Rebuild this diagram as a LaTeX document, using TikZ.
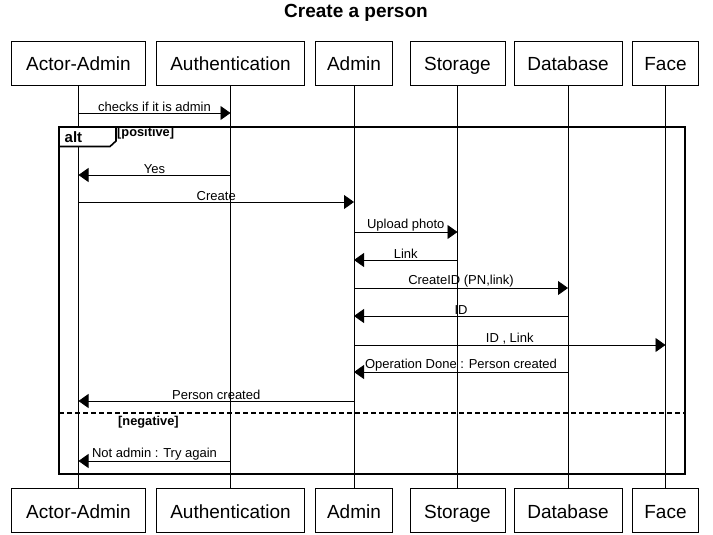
\documentclass[tikz,border=0pt]{standalone}
\usepackage{fontspec}
\setmainfont{Liberation Sans}
\usetikzlibrary{arrows.meta,positioning}

\begin{document}
\begin{tikzpicture}[x=1pt,y=-1pt,
    part/.style={draw,line width=0.8pt,minimum height=44pt,inner sep=0pt,
        text height=18pt,text depth=2pt,font=\fontsize{19}{22}\selectfont},
    msg/.style={-{Triangle[length=10pt,width=14pt]},line width=0.8pt},
    lbl/.style={above,inner sep=0.8pt,font=\fontsize{13}{15}\selectfont},
    life/.style={line width=0.8pt},
    frame/.style={line width=1.6pt},
    guard/.style={right,inner sep=1pt,font=\bfseries\fontsize{12.8}{14}\selectfont}]
    \useasboundingbox (0,0) rectangle (713,535);

    % Title
    \node[font=\bfseries\fontsize{19}{22}\selectfont] (title) at (356,13) {Create a person};

    % Participants, top row
    \node[part,minimum width=134pt] (actT) at (78.5,63)  {Actor-Admin};
    \node[part,minimum width=148pt] (autT) at (230.5,63) {Authentication};
    \node[part,minimum width=77pt]  (admT) at (354,63)   {Admin};
    \node[part,minimum width=95pt]  (stoT) at (457.5,63) {Storage};
    \node[part,minimum width=108pt] (datT) at (568,63)   {Database};
    \node[part,minimum width=66pt]  (facT) at (665.5,63) {Face};

    % Participants, bottom row
    \node[part,minimum width=134pt] (actB) at (78.5,510.5)  {Actor-Admin};
    \node[part,minimum width=148pt] (autB) at (230.5,510.5) {Authentication};
    \node[part,minimum width=77pt]  (admB) at (354,510.5)   {Admin};
    \node[part,minimum width=95pt]  (stoB) at (457.5,510.5) {Storage};
    \node[part,minimum width=108pt] (datB) at (568,510.5)   {Database};
    \node[part,minimum width=66pt]  (facB) at (665.5,510.5) {Face};

    % Lifelines
    \foreach \p in {act,aut,adm,sto,dat,fac}
        \draw[life] (\p T.south) -- (\p B.north);

    % Alt frame
    \coordinate (frNW) at (59,127);
    \coordinate (frSE) at (685,474);
    \draw[frame] (frNW) rectangle (frSE);
    \draw[frame,fill=white] (frNW) -- (frNW |- 0,146.5) -- (110,146.5) -- (116,141) -- (116,127) -- cycle;
    \node[right,inner sep=0pt,font=\bfseries\fontsize{15}{17}\selectfont] (alt) at (64.5,137.5) {alt};
    \node[guard] (pos) at (116,133.5) {[positive]};
    \draw[frame,dashed,dash pattern=on 5pt off 3pt] (frNW |- 0,413) -- (frSE |- 0,413);
    \node[guard] (neg) at (117,422.5) {[negative]};

    % Messages
    \draw[msg] (actT.south |- 0,113) -- node[lbl] {checks if it is admin} (autT.south |- 0,113);
    \draw[msg] (autT.south |- 0,175) -- node[lbl] {Yes} (actT.south |- 0,175);
    \draw[msg] (actT.south |- 0,202) -- node[lbl] {Create} (admT.south |- 0,202);
    \draw[msg] (admT.south |- 0,232) -- node[lbl] {Upload photo} (stoT.south |- 0,232);
    \draw[msg] (stoT.south |- 0,260) -- node[lbl] {Link} (admT.south |- 0,260);
    \draw[msg] (admT.south |- 0,288) -- node[lbl] {CreateID (PN,link)} (datT.south |- 0,288);
    \draw[msg] (datT.south |- 0,316) -- node[lbl] {ID} (admT.south |- 0,316);
    \draw[msg] (admT.south |- 0,345) -- node[lbl] {ID , Link} (facT.south |- 0,345);
    \draw[msg] (datT.south |- 0,372) -- node[lbl] {Operation Done : Person created} (admT.south |- 0,372);
    \draw[msg] (admT.south |- 0,401) -- node[lbl] {Person created} (actT.south |- 0,401);
    \draw[msg] (autT.south |- 0,461) -- node[lbl] {Not admin : Try again} (actT.south |- 0,461);
\end{tikzpicture}
\end{document}
